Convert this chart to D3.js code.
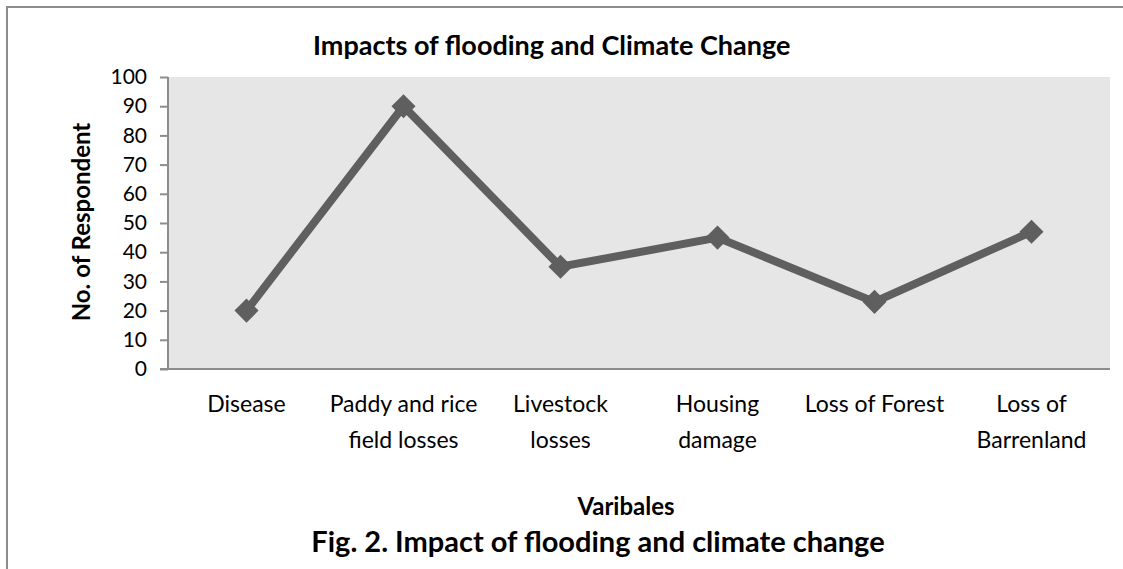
<!DOCTYPE html>
<html><head><meta charset="utf-8">
<script src="https://cdn.jsdelivr.net/npm/d3@7"></script>
<style>body{margin:0;background:#fff;} svg{display:block;}</style>
</head><body>
<script>
const categories = [["Disease"],["Paddy and rice","field losses"],["Livestock","losses"],["Housing","damage"],["Loss of Forest"],["Loss of","Barrenland"]];
const values = [20, 90, 35, 45, 23, 47];
const yTicks = [0,10,20,30,40,50,60,70,80,90,100];
const title = "Impacts of flooding and Climate Change";
const yTitle = "No. of Respondent";
const xTitle = "Varibales";
const caption = "Fig. 2. Impact of flooding and climate change";

const W = 1123, H = 569;
const font = "Lato, 'Open Sans', sans-serif";
const svg = d3.select("body").append("svg").attr("width", W).attr("height", H);

// outer frame
svg.append("path").attr("d", `M7,${H+5} L7,7 L${W+5},7`).attr("fill","none").attr("stroke","#8c8c8c").attr("stroke-width",2);

const m = {l:168, r:1110, t:77, b:369};
const x = d3.scaleBand().domain(d3.range(categories.length)).range([m.l, m.r]);
const y = d3.scaleLinear().domain([0,100]).range([m.b, m.t]);

svg.append("rect").attr("x",m.l).attr("y",m.t).attr("width",m.r-m.l).attr("height",m.b-m.t).attr("fill","#e6e6e6");

const ya = svg.append("g").attr("transform",`translate(${m.l},0)`)
  .call(d3.axisLeft(y).tickValues(yTicks).tickSize(8).tickPadding(13));
ya.select(".domain").attr("stroke","#8c8c8c").attr("stroke-width",2).attr("d",`M0,${m.t}V${m.b}`);
ya.selectAll(".tick line").attr("stroke","#8c8c8c").attr("stroke-width",2);
ya.selectAll(".tick text").attr("font-family",font).attr("font-size",21).attr("fill","#000");

const xa = svg.append("g").attr("transform",`translate(0,${m.b})`)
  .call(d3.axisBottom(x).tickSize(0).tickFormat(""));
xa.select(".domain").attr("stroke","#8c8c8c").attr("stroke-width",2).attr("d",`M${m.l-8},0H${m.r}`);

categories.forEach((lines,i)=>{
  const t = svg.append("text").attr("x", x(i)+x.bandwidth()/2).attr("y", 412)
    .attr("text-anchor","middle").attr("font-family",font).attr("font-size",23).attr("fill","#000");
  lines.forEach((s,j)=>t.append("tspan").attr("x", x(i)+x.bandwidth()/2).attr("dy", j?36:0).text(s));
});

const line = d3.line().x((d,i)=>x(i)+x.bandwidth()/2).y(d=>y(d));
svg.append("path").datum(values).attr("d",line).attr("fill","none").attr("stroke","#5f5f5f").attr("stroke-width",8).attr("stroke-linejoin","miter");
svg.selectAll(".mk").data(values).join("path")
  .attr("d", d3.symbol(d3.symbolSquare, 290))
  .attr("transform",(d,i)=>`translate(${x(i)+x.bandwidth()/2},${y(d)}) rotate(45)`)
  .attr("fill","#5f5f5f");

svg.append("text").attr("x",313).attr("y",55).attr("text-anchor","start").attr("font-family",font).attr("font-weight","bold").attr("font-size",27).text(title);
svg.append("text").attr("transform","translate(90,222) rotate(-90)").attr("text-anchor","middle").attr("font-family",font).attr("font-weight","bold").attr("font-size",24).text(yTitle);
svg.append("text").attr("x",626).attr("y",515).attr("text-anchor","middle").attr("font-family",font).attr("font-weight","bold").attr("font-size",24).text(xTitle);
svg.append("text").attr("x",598).attr("y",552).attr("text-anchor","middle").attr("font-family",font).attr("font-weight","bold").attr("font-size",29).text(caption);
</script>
</body></html>
